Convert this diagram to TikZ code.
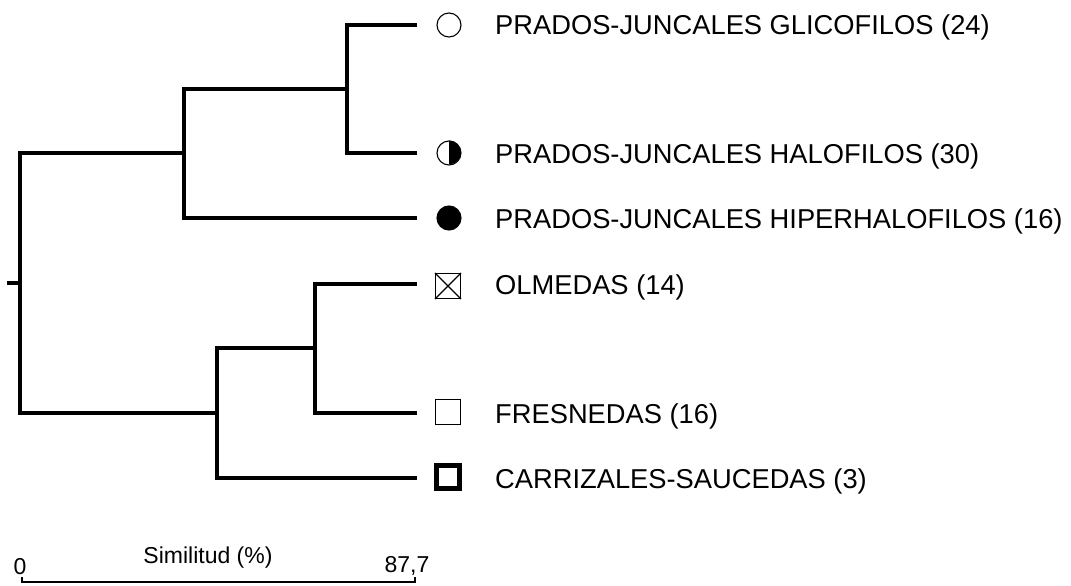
\documentclass[tikz,border=0pt]{standalone}
\usepackage{fontspec}
\setmainfont{Liberation Sans}
\begin{document}
\begin{tikzpicture}[x=1pt,y=-1pt,
  branch/.style={line width=3.8pt,line cap=rect,line join=miter},
  leaflabel/.style={anchor=base west,inner sep=0pt,font=\fontsize{27.3}{30}\selectfont},
  scalelabel/.style={inner sep=0pt,font=\fontsize{23}{26}\selectfont},
  symcircle/.style={circle,draw,line width=1.1pt,minimum size=24pt,inner sep=0pt},
  symsquare/.style={rectangle,draw,line width=1.1pt,minimum size=25pt,inner sep=0pt}]
\useasboundingbox (0,0) rectangle (1071,586);
% leaf end points
\coordinate (l1) at (415,25);
\coordinate (l2) at (415,153);
\coordinate (l3) at (415,218);
\coordinate (l4) at (415,284);
\coordinate (l5) at (415,413);
\coordinate (l6) at (415,478);
% internal joins
\coordinate (a12) at (347,89);
\coordinate (a123) at (184,153);
\coordinate (a45) at (315,348);
\coordinate (a456) at (217,413);
\coordinate (r) at (20,283);
\coordinate (rt) at (9,283);
\draw[branch] (l1) -| (a12) |- (l2);
\draw[branch] (a12) -| (a123) |- (l3);
\draw[branch] (l4) -| (a45) |- (l5);
\draw[branch] (a45) -| (a456) |- (l6);
\draw[branch] (a123) -| (r) |- (a456);
\draw[branch] (r) -- (rt);
% symbols
\node[symcircle] (s1) at (449,25) {};
\node[symcircle] (s2) at (449,153) {};
\fill (s2.north) arc[start angle=90,end angle=-90,radius=12pt] -- cycle;
\node[symcircle,fill=black] (s3) at (449,218) {};
\node[symsquare] (s4) at (448,286) {};
\draw[line width=1.1pt] (s4.north west) -- (s4.south east) (s4.north east) -- (s4.south west);
\node[symsquare] (s5) at (448,412) {};
\node[symsquare,line width=4.2pt,minimum size=23pt] (s6) at (448,477) {};
% labels
\node[leaflabel] (t1) at (495,35) {PRADOS-JUNCALES GLICOFILOS (24)};
\node[leaflabel] (t2) at (495,163) {PRADOS-JUNCALES HALOFILOS (30)};
\node[leaflabel] (t3) at (495,228) {PRADOS-JUNCALES HIPERHALOFILOS (16)};
\node[leaflabel] (t4) at (495,294) {OLMEDAS (14)};
\node[leaflabel] (t5) at (495,423) {FRESNEDAS (16)};
\node[leaflabel] (t6) at (495,488) {CARRIZALES-SAUCEDAS (3)};
% scale bar
\coordinate (b0) at (22,582);
\coordinate (b1) at (415,582);
\draw[line width=1.6pt] ([yshift=5pt]b0) -- (b0) -- (b1) -- ([yshift=5pt]b1);
\node[scalelabel] (z0) at (20,567) {0};
\node[scalelabel] (zt) at (208,558) {Similitud (\%)};
\node[scalelabel] (z1) at (407,566) {87,7};
\end{tikzpicture}
\end{document}
